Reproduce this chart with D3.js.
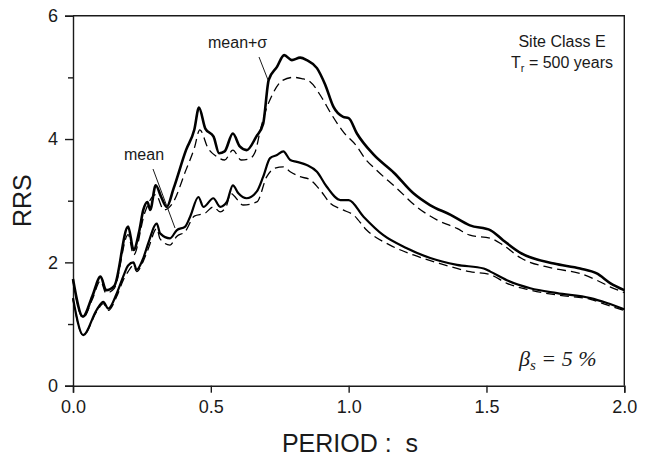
<!DOCTYPE html>
<html><head><meta charset="utf-8">
<script src="https://cdn.jsdelivr.net/npm/d3@7"></script>
<style>
html,body{margin:0;padding:0;background:#fff;}
svg{display:block;font-family:"Liberation Sans",Arial,Helvetica,sans-serif;}
</style></head>
<body>
<svg id="chart" width="648" height="459"></svg>
<script>
// ---- data (period in s, RRS) ----
const sigmaSolidT = [0, 0.036, 0.07, 0.1, 0.12, 0.15, 0.2, 0.22, 0.24, 0.255, 0.27, 0.28, 0.3, 0.32, 0.34, 0.365, 0.41, 0.44, 0.457, 0.48, 0.51, 0.53, 0.55, 0.58, 0.605, 0.63, 0.665, 0.69, 0.71, 0.74, 0.766, 0.794, 0.824, 0.848, 0.885, 0.915, 0.945, 0.98, 1.0, 1.03, 1.09, 1.165, 1.235, 1.295, 1.37, 1.44, 1.515, 1.56, 1.625, 1.745, 1.84, 1.9, 1.95, 2.0];
const sigmaSolidV = [1.73, 1.12, 1.45, 1.77, 1.55, 1.62, 2.58, 2.2, 2.5, 2.85, 2.98, 2.85, 3.25, 3.06, 2.9, 3.2, 3.82, 4.15, 4.51, 4.17, 4.04, 3.77, 3.8, 4.09, 3.88, 3.82, 4.04, 4.25, 4.96, 5.17, 5.36, 5.28, 5.32, 5.28, 5.15, 4.88, 4.52, 4.36, 4.34, 4.09, 3.75, 3.45, 3.12, 2.93, 2.77, 2.6, 2.52, 2.36, 2.15, 1.98, 1.9, 1.82, 1.66, 1.55];

const sigmaDashT = [0, 0.036, 0.07, 0.1, 0.12, 0.15, 0.2, 0.22, 0.26, 0.3, 0.33, 0.36, 0.41, 0.44, 0.46, 0.49, 0.52, 0.55, 0.58, 0.61, 0.64, 0.66, 0.68, 0.7, 0.72, 0.76, 0.8, 0.83, 0.86, 0.9, 0.935, 0.98, 1.03, 1.06, 1.1, 1.175, 1.247, 1.32, 1.393, 1.44, 1.515, 1.56, 1.625, 1.745, 1.84, 1.9, 1.95, 2.0];
const sigmaDashV = [1.70, 1.1, 1.4, 1.7, 1.5, 1.58, 2.45, 2.12, 2.8, 3.1, 2.85, 2.95, 3.5, 3.85, 4.15, 3.85, 3.72, 3.66, 3.82, 3.66, 3.68, 3.78, 4.15, 4.47, 4.69, 4.95, 5.0, 4.98, 4.93, 4.69, 4.42, 4.12, 3.88, 3.68, 3.5, 3.2, 2.9, 2.69, 2.55, 2.44, 2.39, 2.28, 2.07, 1.9, 1.82, 1.71, 1.6, 1.51];

const meanSolidT = [0, 0.037, 0.086, 0.11, 0.128, 0.159, 0.183, 0.2, 0.219, 0.231, 0.255, 0.273, 0.304, 0.316, 0.352, 0.376, 0.407, 0.425, 0.455, 0.473, 0.509, 0.534, 0.558, 0.58, 0.6, 0.63, 0.667, 0.69, 0.715, 0.74, 0.763, 0.788, 0.812, 0.848, 0.885, 0.92, 0.97, 1.0, 1.054, 1.126, 1.211, 1.296, 1.393, 1.49, 1.514, 1.574, 1.659, 1.756, 1.877, 1.937, 2.0];
const meanSolidV = [1.42, 0.82, 1.23, 1.36, 1.25, 1.5, 1.78, 1.95, 2.0, 1.88, 2.07, 2.31, 2.63, 2.47, 2.39, 2.52, 2.58, 2.74, 3.06, 2.9, 3.04, 2.9, 2.98, 3.25, 3.12, 3.04, 3.15, 3.39, 3.69, 3.74, 3.8, 3.66, 3.63, 3.58, 3.47, 3.23, 3.01, 3.01, 2.74, 2.44, 2.23, 2.07, 1.96, 1.9, 1.85, 1.71, 1.58, 1.5, 1.42, 1.34, 1.24];

const meanDashT = [0, 0.037, 0.086, 0.11, 0.128, 0.159, 0.183, 0.2, 0.219, 0.231, 0.255, 0.273, 0.304, 0.316, 0.352, 0.376, 0.407, 0.44, 0.48, 0.509, 0.534, 0.558, 0.571, 0.618, 0.667, 0.703, 0.733, 0.763, 0.788, 0.824, 0.86, 0.897, 0.933, 0.98, 1.017, 1.066, 1.15, 1.235, 1.332, 1.44, 1.514, 1.574, 1.659, 1.756, 1.877, 1.937, 2.0];
const meanDashV = [1.40, 0.82, 1.2, 1.33, 1.22, 1.45, 1.72, 1.85, 1.95, 1.85, 2.02, 2.22, 2.55, 2.38, 2.28, 2.42, 2.5, 2.75, 2.8, 2.9, 2.82, 2.93, 3.12, 2.93, 2.98, 3.39, 3.53, 3.55, 3.47, 3.39, 3.34, 3.17, 2.96, 2.85, 2.77, 2.52, 2.28, 2.12, 1.98, 1.85, 1.8, 1.66, 1.55, 1.47, 1.4, 1.31, 1.22];

const xTicks = [0, 0.5, 1.0, 1.5, 2.0];
const yMajorTicks = [0, 2, 4, 6];
const yMinorTicks = [1, 3, 5];

// ---- layout ----
const svg = d3.select("#chart");
const L = 73, R = 624.3, T = 15.7, B = 385.7;
const x = d3.scaleLinear().domain([0, 2]).range([L, R]);
const y = d3.scaleLinear().domain([0, 6]).range([B, T]);
const ink = "#1a1a1a";

// frame (top + right)
svg.append("path").attr("d", `M${L},${T}H${R}V${B}`)
  .attr("fill", "none").attr("stroke", ink).attr("stroke-width", 1.4);

// axes
svg.append("g").attr("transform", `translate(0,${B})`)
  .call(d3.axisBottom(x).tickValues(xTicks).tickFormat(d3.format(".1f")).tickSizeOuter(0).tickSize(7).tickPadding(8));
svg.append("g").attr("transform", `translate(${L},0)`)
  .call(d3.axisLeft(y).tickValues(yMajorTicks).tickFormat(d3.format("d")).tickSizeOuter(0).tickSize(8).tickPadding(7));
svg.append("g").attr("transform", `translate(${L},0)`)
  .call(d3.axisLeft(y).tickValues(yMinorTicks).tickFormat("").tickSizeOuter(0).tickSize(5))
  .select(".domain").remove();
svg.selectAll(".domain").attr("stroke", ink).attr("stroke-width", 1.4);
svg.selectAll(".tick line").attr("stroke", ink).attr("stroke-width", 1.4);
svg.selectAll(".tick text").attr("fill", ink).style("font-size", "18px")
  .style("font-family", "'Liberation Sans', Arial, sans-serif");

// axis titles
svg.append("text").attr("x", 350).attr("y", 452).attr("text-anchor", "middle")
  .style("font-size", "25px").attr("fill", ink).attr("xml:space", "preserve").text("PERIOD :  s");
svg.append("text").attr("transform", `translate(31,${y(3)}) rotate(-90)`).attr("text-anchor", "middle")
  .style("font-size", "25px").attr("fill", ink).text("RRS");

// curves
const line = d3.line().x(d => x(d[0])).y(d => y(d[1])).curve(d3.curveMonotoneX);
const zipPts = (ts, vs) => ts.map((t, i) => [t, vs[i]]);
const series = [
  {t: sigmaDashT, v: sigmaDashV, w: 1.3, dash: "9,5"},
  {t: meanDashT, v: meanDashV, w: 1.3, dash: "9,5"},
  {t: sigmaSolidT, v: sigmaSolidV, w: 2.6, dash: null},
  {t: meanSolidT, v: meanSolidV, w: 2.2, dash: null}
];
series.forEach(s => {
  svg.append("path").datum(zipPts(s.t, s.v)).attr("d", line)
    .attr("fill", "none").attr("stroke", "#000").attr("stroke-width", s.w)
    .attr("stroke-linejoin", "round").attr("stroke-dasharray", s.dash);
});

// annotations
svg.append("text").attr("x", 208).attr("y", 48).style("font-size", "16px").attr("fill", ink).text("mean+σ");
svg.append("line").attr("x1", 259).attr("y1", 57).attr("x2", 268).attr("y2", 80).attr("stroke", ink).attr("stroke-width", 1);
svg.append("text").attr("x", 124).attr("y", 160).style("font-size", "16px").attr("fill", ink).text("mean");
svg.append("line").attr("x1", 153).attr("y1", 169).attr("x2", 175).attr("y2", 228).attr("stroke", ink).attr("stroke-width", 1);

svg.append("text").attr("x", 562).attr("y", 47).attr("text-anchor", "middle").style("font-size", "16px").attr("fill", ink).text("Site Class E");
const t2 = svg.append("text").attr("x", 562).attr("y", 68).attr("text-anchor", "middle").style("font-size", "16px").attr("fill", ink);
t2.append("tspan").text("T");
t2.append("tspan").attr("dy", 4).style("font-size", "11px").text("r");
t2.append("tspan").attr("dy", -4).text(" = 500 years");

const b = svg.append("text").attr("x", 519).attr("y", 366)
  .style("font-family", "'Liberation Serif', 'Times New Roman', serif").style("font-style", "italic")
  .style("font-size", "22px").attr("fill", ink);
b.append("tspan").text("β");
b.append("tspan").attr("dy", 4).style("font-size", "15px").text("s");
b.append("tspan").attr("dy", -4).attr("xml:space", "preserve").text(" = 5 %");
</script>
</body></html>
